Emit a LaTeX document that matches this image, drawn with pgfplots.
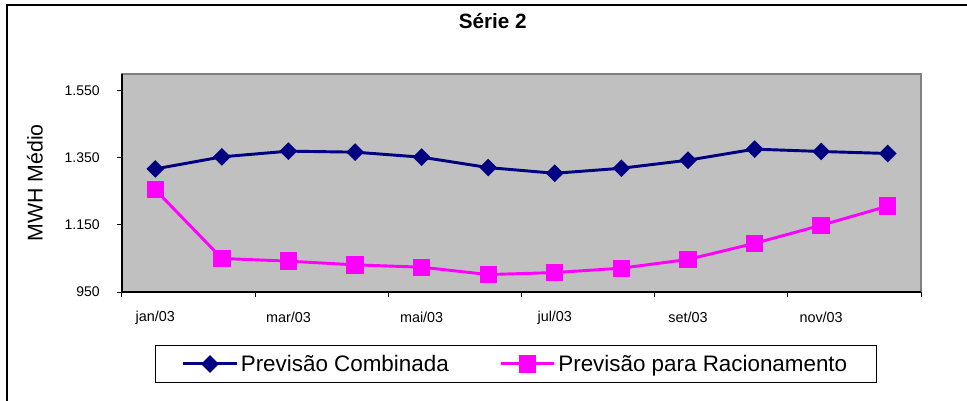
\documentclass[border=0pt]{standalone}
\usepackage{fontspec}
\setmainfont{Liberation Sans}
\usepackage{pgfplots}
\pgfplotsset{compat=1.18}
\definecolor{plotgray}{HTML}{C0C0C0}
\definecolor{bordergray}{HTML}{808080}
\definecolor{navyline}{HTML}{000080}
\definecolor{pinkline}{HTML}{FF00FF}
\begin{document}
\begin{tikzpicture}
\useasboundingbox (0pt,0pt) rectangle (725.25pt,-300pt);
% outer chart frame (extends beyond the visible area)
\draw[black, line width=2.2pt] (5.25pt,-3.75pt) rectangle (740pt,-320pt);
\begin{axis}[
  at={(91.5pt,-219pt)}, anchor=south west,
  scale only axis, width=599.25pt, height=163.5pt,
  xmin=-0.5, xmax=11.5, ymin=950, ymax=1600,
  axis background/.style={fill=plotgray, draw=bordergray, line width=1.5pt},
  axis x line*=bottom, axis y line*=left,
  axis line style={-, black, line width=1.2pt},
  tick align=outside,
  xtick={0,2,...,10},
  xticklabels={jan/03, mar/03, mai/03, jul/03, set/03, nov/03},
  minor xtick={-0.5,1.5,...,11.5},
  major x tick style={draw=none},
  minor x tick style={black, line width=0.75pt},
  minor tick length=3.5pt,
  major tick length=3.5pt,
  ytick={950,1150,1350,1550},
  yticklabels={950, 1.150, 1.350, 1.550},
  major y tick style={black, line width=0.75pt},
  xticklabel style={font=\fontsize{10.8pt}{12pt}\selectfont, anchor=center, yshift=-15.5pt},
  yticklabel style={font=\fontsize{10.5pt}{12pt}\selectfont, anchor=east, inner sep=0pt, xshift=-13pt},
  title={\textbf{Série 2}},
  title style={font=\fontsize{15.5pt}{18pt}\selectfont, at={(axis description cs:0.464,1.206)}, anchor=center},
  ylabel={MWH Médio},
  ylabel style={font=\fontsize{16pt}{18pt}\selectfont, at={(axis description cs:-0.109,0.5)}, anchor=center},
  legend columns=2,
  legend style={at={(axis description cs:0.493,-0.330)}, anchor=center,
    draw=black, line width=0.75pt, fill=white,
    font=\fontsize{16.8pt}{19pt}\selectfont,
    inner xsep=20pt, inner ysep=5pt,
    /tikz/every even column/.append style={column sep=36pt}},
  legend image code/.code={\draw[mark repeat=2, mark phase=2, #1] plot coordinates {(0pt,0pt) (20pt,0pt) (40pt,0pt)};},
]
\addplot[navyline, line width=2.2pt, mark=square*, mark size=3.6pt, mark options={rotate=45, solid, fill=navyline}]
coordinates {(0,1317) (1,1353) (2,1370) (3,1367) (4,1352) (5,1321) (6,1304) (7,1319) (8,1343) (9,1376) (10,1369) (11,1363)};
\addlegendentry{Previsão Combinada}
\addplot[pinkline, line width=2.2pt, mark=square*, mark size=5.4pt, mark options={solid, fill=pinkline}]
coordinates {(0,1255) (1,1050) (2,1042) (3,1031) (4,1024) (5,1002) (6,1008) (7,1021) (8,1047) (9,1095) (10,1149) (11,1206)};
\addlegendentry{Previsão para Racionamento}
\end{axis}
\end{tikzpicture}
\end{document}
